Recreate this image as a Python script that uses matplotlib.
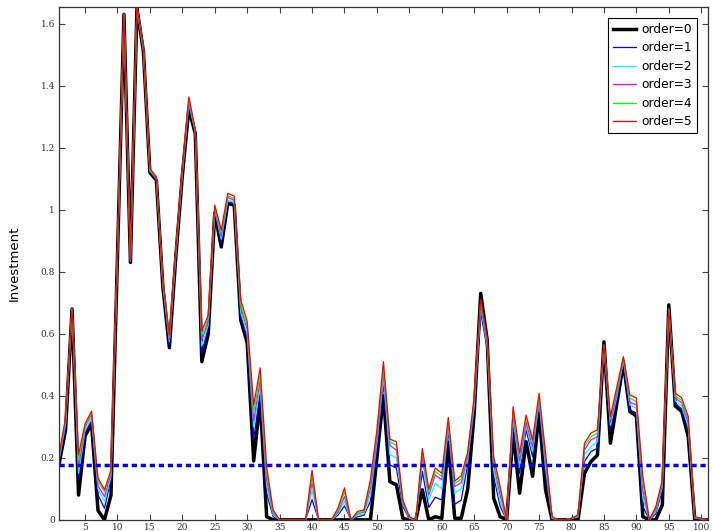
import numpy as np
import matplotlib
matplotlib.use("Agg")
import matplotlib.pyplot as plt

# x positions 1..101
x = np.arange(1, 102)

order0 = [0.18, 0.29, 0.68, 0.08, 0.27, 0.31, 0.03, 0.0, 0.08, 0.85,
          1.63, 0.83, 1.65, 1.51, 1.12, 1.095, 0.75, 0.555, 0.85, 1.11,
          1.325, 1.245, 0.51, 0.60, 0.99, 0.88, 1.02, 1.015, 0.645, 0.57,
          0.19, 0.385, 0.01, 0, 0, 0, 0, 0, 0, 0,
          0, 0, 0, 0, 0, 0, 0, 0, 0, 0.2,
          0.40, 0.123, 0.113, 0.005, 0, 0, 0.097, 0, 0.01, 0.005,
          0.25, 0.005, 0.005, 0.10, 0.344, 0.73, 0.58, 0.07, 0.01, 0,
          0.28, 0.086, 0.252, 0.14, 0.344, 0.097, 0, 0, 0, 0,
          0, 0.15, 0.188, 0.209, 0.574, 0.247, 0.376, 0.505, 0.349, 0.335,
          0.01, 0, 0, 0.048, 0.693, 0.367, 0.349, 0.268, 0, 0, 0]

order1 = [0.19, 0.30, 0.68, 0.13, 0.28, 0.32, 0.08, 0.037, 0.13, 0.85,
          1.63, 0.83, 1.651, 1.515, 1.125, 1.10, 0.755, 0.565, 0.855, 1.115,
          1.335, 1.25, 0.54, 0.62, 0.995, 0.895, 1.025, 1.02, 0.66, 0.585,
          0.26, 0.41, 0.085, 0.01, 0, 0, 0, 0, 0, 0.065,
          0, 0, 0, 0.015, 0.045, 0, 0.01, 0.015, 0.06, 0.23,
          0.44, 0.177, 0.167, 0.043, 0.003, 0, 0.156, 0.04, 0.073, 0.064,
          0.29, 0.05, 0.064, 0.18, 0.36, 0.67, 0.55, 0.14, 0.043, 0,
          0.31, 0.15, 0.29, 0.204, 0.376, 0.15, 0.003, 0, 0, 0.005,
          0.008, 0.188, 0.22, 0.231, 0.56, 0.29, 0.39, 0.51, 0.354, 0.345,
          0.043, 0, 0.02, 0.097, 0.68, 0.376, 0.357, 0.29, 0.004, 0.002, 0]

order2 = [0.195, 0.31, 0.68, 0.15, 0.29, 0.33, 0.10, 0.06, 0.14, 0.855,
          1.63, 0.835, 1.652, 1.515, 1.125, 1.10, 0.76, 0.575, 0.86, 1.12,
          1.345, 1.25, 0.56, 0.63, 1.0, 0.905, 1.03, 1.025, 0.67, 0.60,
          0.30, 0.43, 0.11, 0.015, 0, 0, 0, 0, 0, 0.095,
          0, 0, 0, 0.02, 0.06, 0, 0.015, 0.02, 0.08, 0.25,
          0.46, 0.21, 0.20, 0.05, 0.005, 0, 0.188, 0.065, 0.118, 0.10,
          0.30, 0.086, 0.10, 0.195, 0.37, 0.69, 0.56, 0.16, 0.06, 0,
          0.325, 0.17, 0.305, 0.22, 0.385, 0.17, 0.005, 0, 0, 0.005,
          0.01, 0.21, 0.236, 0.252, 0.562, 0.305, 0.40, 0.515, 0.37, 0.36,
          0.07, 0, 0.027, 0.108, 0.68, 0.384, 0.367, 0.30, 0.006, 0.003, 0]

order3 = [0.20, 0.32, 0.68, 0.17, 0.30, 0.34, 0.11, 0.075, 0.15, 0.86,
          1.63, 0.835, 1.653, 1.52, 1.13, 1.10, 0.76, 0.58, 0.86, 1.12,
          1.35, 1.255, 0.58, 0.64, 1.005, 0.915, 1.04, 1.03, 0.685, 0.615,
          0.32, 0.45, 0.13, 0.02, 0, 0, 0, 0, 0, 0.12,
          0, 0, 0, 0.025, 0.075, 0, 0.02, 0.025, 0.10, 0.26,
          0.475, 0.24, 0.225, 0.055, 0.007, 0, 0.205, 0.08, 0.145, 0.129,
          0.31, 0.107, 0.12, 0.205, 0.38, 0.70, 0.57, 0.18, 0.08, 0,
          0.34, 0.19, 0.315, 0.235, 0.395, 0.19, 0.007, 0, 0, 0.005,
          0.012, 0.225, 0.258, 0.268, 0.563, 0.315, 0.41, 0.52, 0.38, 0.37,
          0.095, 0, 0.033, 0.115, 0.678, 0.393, 0.377, 0.312, 0.007, 0.004, 0]

order4 = [0.205, 0.325, 0.68, 0.19, 0.305, 0.345, 0.125, 0.09, 0.155, 0.86,
          1.63, 0.84, 1.653, 1.52, 1.13, 1.105, 0.765, 0.59, 0.865, 1.125,
          1.36, 1.255, 0.595, 0.65, 1.01, 0.925, 1.045, 1.035, 0.695, 0.625,
          0.345, 0.47, 0.15, 0.025, 0, 0, 0, 0, 0, 0.14,
          0, 0, 0, 0.03, 0.09, 0, 0.022, 0.028, 0.115, 0.28,
          0.49, 0.252, 0.24, 0.06, 0.008, 0, 0.22, 0.09, 0.156, 0.14,
          0.32, 0.117, 0.132, 0.215, 0.39, 0.705, 0.58, 0.195, 0.095, 0,
          0.355, 0.205, 0.33, 0.25, 0.40, 0.205, 0.008, 0, 0, 0.005,
          0.014, 0.237, 0.268, 0.28, 0.564, 0.325, 0.42, 0.523, 0.392, 0.382,
          0.12, 0, 0.038, 0.122, 0.678, 0.40, 0.385, 0.322, 0.008, 0.005, 0]

order5 = [0.21, 0.33, 0.68, 0.21, 0.31, 0.35, 0.135, 0.097, 0.16, 0.865,
          1.632, 0.84, 1.654, 1.525, 1.133, 1.106, 0.77, 0.596, 0.87, 1.13,
          1.364, 1.26, 0.61, 0.66, 1.015, 0.935, 1.053, 1.044, 0.71, 0.64,
          0.37, 0.49, 0.17, 0.032, 0, 0, 0, 0, 0, 0.16,
          0, 0, 0, 0.038, 0.103, 0, 0.027, 0.032, 0.13, 0.29,
          0.51, 0.26, 0.252, 0.064, 0.01, 0, 0.23, 0.10, 0.167, 0.15,
          0.33, 0.125, 0.142, 0.22, 0.397, 0.71, 0.586, 0.204, 0.107, 0,
          0.365, 0.215, 0.338, 0.258, 0.408, 0.215, 0.01, 0, 0, 0.005,
          0.016, 0.247, 0.28, 0.29, 0.564, 0.333, 0.43, 0.526, 0.403, 0.393,
          0.14, 0, 0.043, 0.129, 0.677, 0.408, 0.393, 0.333, 0.01, 0.005, 0]

threshold = 0.176

series = [order0, order1, order2, order3, order4, order5]
labels = ['order=%d' % k for k in range(6)]
colors = ['black', '#0000ff', '#00ffff', '#ff00ff', '#00ff00', '#ff0000']
widths = [2.5, 0.9, 0.9, 0.9, 0.9, 0.9]

fig = plt.figure(figsize=(7.12, 5.31), dpi=100)
ax = fig.add_axes([0.083, 0.021, 0.911, 0.966])

for k in range(6):
    ax.plot(x, series[k], color=colors[k], lw=widths[k], label=labels[k])

ax.plot([x[0], x[-1]], [threshold, threshold], '--', color='#0000ff', lw=2.5,
        dashes=(1.5, 1.1))

ax.set_xlim(1, 101)
ax.set_ylim(0, 1.654)

ax.set_xticks(np.arange(5, 101, 5))
ax.set_yticks(np.arange(0, 1.61, 0.2))
ax.set_yticklabels(['0', '0.2', '0.4', '0.6', '0.8', '1', '1.2', '1.4', '1.6'])
ax.tick_params(direction='in', top=True, right=True, length=4, width=0.8,
               labelsize=6.5, colors='#444444', pad=3)
for lab in ax.get_xticklabels() + ax.get_yticklabels():
    lab.set_family('DejaVu Serif')
    lab.set_color('#333333')
ax.tick_params(axis='x', pad=2)
for s in ax.spines.values():
    s.set_color('#333333')
    s.set_linewidth(0.9)

ax.set_ylabel('Investment', fontsize=9.5, labelpad=14)

leg = ax.legend(loc='upper right', fontsize=8.8, handlelength=1.9,
                fancybox=False, framealpha=1, edgecolor='black',
                borderaxespad=0.9, labelspacing=0.45, handletextpad=0.4)
leg.get_frame().set_linewidth(0.8)

plt.savefig('out.png', dpi=100)
